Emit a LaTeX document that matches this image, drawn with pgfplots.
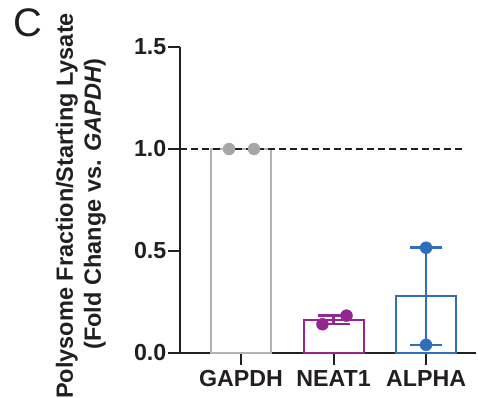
\documentclass[border=0pt]{standalone}
\usepackage{pgfplots}
\pgfplotsset{compat=1.18}
\usepackage{fontspec}
\setmainfont{Liberation Sans}
\definecolor{axcol}{HTML}{231F20}
\definecolor{gcol}{HTML}{B3B3B3}
\definecolor{gdot}{HTML}{A6A6A6}
\definecolor{pcol}{HTML}{93278F}
\definecolor{bcol}{HTML}{2F6FBA}
\newcommand{\tfont}{\fontsize{23.3}{27}\selectfont\bfseries}
\newcommand{\lfont}{\fontsize{23.6}{27}\selectfont\bfseries}
\begin{document}
\begin{tikzpicture}
\begin{axis}[
  at={(0,0)}, anchor=south west,
  scale only axis,
  width=296bp, height=306bp,
  xmin=-0.66, xmax=2.54,
  ymin=0, ymax=1.5,
  axis lines=left,
  axis line style={axcol, line width=2bp, -},
  every tick/.style={axcol, line width=2bp},
  tick align=outside,
  major tick length=12bp,
  xtick={0,1,2},
  xticklabels={GAPDH,NEAT1,ALPHA},
  ytick={0,0.5,1,1.5},
  yticklabels={0.0,0.5,1.0,1.5},
  /pgf/number format/assume math mode=true,
  tick label style={font=\tfont, text=axcol},
  yticklabel style={inner sep=1.5bp},
  xticklabel style={inner sep=1bp, yshift=-4bp},
  clip=false,
]
% bars
\addplot[ybar, bar width=60bp, bar shift=0pt, draw=gcol, fill=white, line width=2bp] coordinates {(0,1.0)};
\addplot[ybar, bar width=60bp, bar shift=0pt, draw=pcol, fill=white, line width=2bp] coordinates {(1,0.162)};
\addplot[ybar, bar width=60bp, bar shift=0pt, draw=bcol, fill=white, line width=2bp] coordinates {(2,0.278)};
% dashed reference line
\addplot[axcol, line width=2bp, dash pattern=on 7bp off 4bp] coordinates {(-0.66,1) (2.4,1)};
% error bars
\addplot[draw=none, mark=none,
  error bars/.cd, y dir=both, y explicit,
  error mark=|, error mark options={pcol, line width=2.5bp, mark size=16bp},
  error bar style={pcol, line width=2.5bp}]
  coordinates {(1,0.162) +- (0,0.021)};
\addplot[draw=none, mark=none,
  error bars/.cd, y dir=both, y explicit,
  error mark=|, error mark options={bcol, line width=2.5bp, mark size=16bp},
  error bar style={bcol, line width=2.5bp}]
  coordinates {(2,0.278) +- (0,0.238)};
% points
\addplot[only marks, mark=*, mark size=6bp, gdot, mark options={draw=gdot, fill=gdot}] coordinates {(-0.13,1.0) (0.14,1.0)};
\addplot[only marks, mark=*, mark size=6bp, pcol, mark options={draw=pcol, fill=pcol}] coordinates {(0.88,0.141) (1.14,0.183)};
\addplot[only marks, mark=*, mark size=6bp, bcol, mark options={draw=bcol, fill=bcol}] coordinates {(2,0.516) (2,0.040)};
\end{axis}
\node[rotate=90, anchor=base, inner sep=0pt, text=axcol, font=\lfont] at (-107bp,147bp) {Polysome Fraction/Starting Lysate};
\node[rotate=90, anchor=base, inner sep=0pt, text=axcol, font=\lfont] at (-79bp,149bp) {(Fold Change vs. \textit{GAPDH})};
\node[anchor=base west, inner sep=0pt, text=axcol, font=\fontsize{40}{44}\selectfont] at (-167bp,316bp) {C};
\pgfresetboundingbox
\path[use as bounding box] (-180bp,-45bp) rectangle (298bp,353bp);
\end{tikzpicture}
\end{document}
